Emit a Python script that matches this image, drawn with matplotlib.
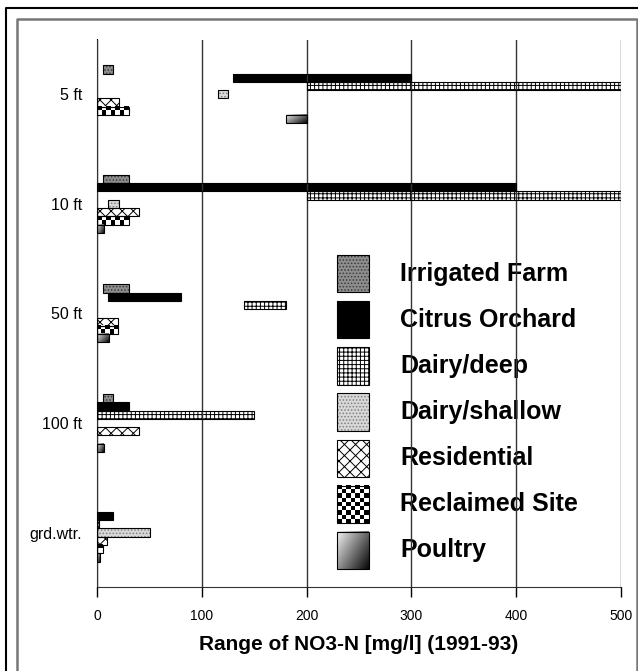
import numpy as np
import matplotlib
matplotlib.use("Agg")
import matplotlib.pyplot as plt
from matplotlib.patches import Rectangle

plt.rcParams["font.family"] = ["Liberation Sans", "DejaVu Sans"]
plt.rcParams["hatch.linewidth"] = 0.7

categories = ["5 ft", "10 ft", "50 ft", "100 ft", "grd.wtr."]
series = ["Irrigated Farm", "Citrus Orchard", "Dairy/deep", "Dairy/shallow",
          "Residential", "Reclaimed Site", "Poultry"]

nan = np.nan
# low / high end of each range, one value per category
irrigated_lo = [5, 5, 5, 5, nan]
irrigated_hi = [15, 30, 30, 15, nan]
citrus_lo = [130, 0, 10, 0, 0]
citrus_hi = [300, 400, 80, 30, 15]
dairy_deep_lo = [200, 200, 140, 0, 0]
dairy_deep_hi = [500, 500, 180, 150, 2]
dairy_shallow_lo = [115, 10, nan, nan, 0]
dairy_shallow_hi = [125, 21, nan, nan, 50]
residential_lo = [0, 0, 0, 0, 0]
residential_hi = [21, 40, 20, 40, 9]
reclaimed_lo = [0, 0, 0, nan, 0]
reclaimed_hi = [30, 30, 20, nan, 5]
poultry_lo = [180, 0, 0, 0, 0]
poultry_hi = [200, 6, 11, 6, 2.5]

lows = [irrigated_lo, citrus_lo, dairy_deep_lo, dairy_shallow_lo,
        residential_lo, reclaimed_lo, poultry_lo]
highs = [irrigated_hi, citrus_hi, dairy_deep_hi, dairy_shallow_hi,
         residential_hi, reclaimed_hi, poultry_hi]

styles = [
    dict(kind="hatch", face="#8e8e8e", hatch=".....", hc="#3a3a3a"),
    dict(kind="solid", face="black"),
    dict(kind="hatch", face="white", hatch="++++", hc="black"),
    dict(kind="hatch", face="#d8d8d8", hatch=".....", hc="#808080"),
    dict(kind="hatch", face="white", hatch="xxx", hc="black"),
    dict(kind="checker"),
    dict(kind="gradient"),
]

W, H = 638, 671
fig = plt.figure(figsize=(W / 100, H / 100), dpi=100)

# background layer in pixel coords: frame + legend
bg = fig.add_axes([0, 0, 1, 1], zorder=0)
bg.set_xlim(0, W)
bg.set_ylim(H, 0)
bg.axis("off")

ax = fig.add_axes([97.3 / W, 1 - 587.3 / H, 523.4 / W, 547.8 / H], zorder=1)
ax.patch.set_alpha(0)
ax.set_xlim(0, 500)
ax.set_ylim(4.5, -0.5)


def fill_rect(a, x0, x1, y0, y1, st, wpx, hpx, cell=4.3):
    # y0 is the visual top (smaller value on inverted axes)
    if st["kind"] == "solid":
        a.add_patch(Rectangle((x0, y0), x1 - x0, y1 - y0, facecolor=st["face"],
                              edgecolor="none", zorder=2))
    elif st["kind"] == "hatch":
        a.add_patch(Rectangle((x0, y0), x1 - x0, y1 - y0, facecolor=st["face"],
                              edgecolor=st["hc"], hatch=st["hatch"], lw=0, zorder=2))
    elif st["kind"] == "checker":
        nc = max(1, int(round(wpx / cell)))
        nr = max(1, int(round(hpx / cell)))
        img = np.add.outer(np.arange(nr), np.arange(nc)) % 2
        a.imshow(img, cmap="gray", vmin=0, vmax=1, extent=(x0, x1, y1, y0),
                 aspect="auto", interpolation="nearest", zorder=2)
    else:
        u = np.linspace(0, 1, 64)
        v = np.linspace(0, 1, 32)
        img = 0.95 - 0.92 * (0.6 * u[None, :] + 0.4 * v[:, None])
        a.imshow(img, cmap="gray", vmin=0, vmax=1, extent=(x0, x1, y1, y0),
                 aspect="auto", interpolation="bilinear", zorder=2)
    a.add_patch(Rectangle((x0, y0), x1 - x0, y1 - y0, fill=False,
                          edgecolor="black", lw=0.8, zorder=3))


sx = 523.4 / 500
bar_h = 8.3 / 109.55
ypos = np.arange(len(categories))
for i, st in enumerate(styles):
    for j, y in enumerate(ypos):
        lo, hi = lows[i][j], highs[i][j]
        if np.isnan(lo):
            continue
        yc = y + (i - 3) * bar_h
        fill_rect(ax, lo, hi, yc - bar_h / 2, yc + bar_h / 2, st,
                  (hi - lo) * sx, 8.3)

ax.set_xticks([0, 100, 200, 300, 400, 500])
ax.set_yticks(ypos)
ax.set_yticklabels(categories, fontsize=11.5)
ax.tick_params(axis="y", length=0, pad=11)
ax.tick_params(axis="x", direction="out", length=7.5, width=1, pad=8,
               labelsize=10)
ax.grid(axis="x", color="#333333", lw=1)
ax.set_axisbelow(False)
for s in ["top", "right"]:
    ax.spines[s].set_visible(False)
ax.spines["left"].set_color("black")
ax.spines["bottom"].set_color("#333333")
ax.set_xlabel("Range of NO3-N [mg/l] (1991-93)", fontsize=15,
              fontweight="bold", labelpad=9)

# legend drawn by hand
for i, (name, st) in enumerate(zip(series, styles)):
    yc = 273.7 + i * 46.1
    fill_rect(bg, 336.7, 368.7, yc - 18.6, yc + 18.6, st, 32, 37.2)
    bg.text(400, yc, name, fontsize=18, fontweight="bold", va="center",
            ha="left")

# page frame
bg.plot([6, 6, W + 5], [H + 5, 8, 8], color="black", lw=1.5, clip_on=False)
bg.plot([16.5, 16.5, 636.5, 636.5], [H + 5, 19, 19, H + 5], color="#777777",
        lw=1.8, clip_on=False)

fig.savefig("out.png", dpi=100, facecolor="white")
